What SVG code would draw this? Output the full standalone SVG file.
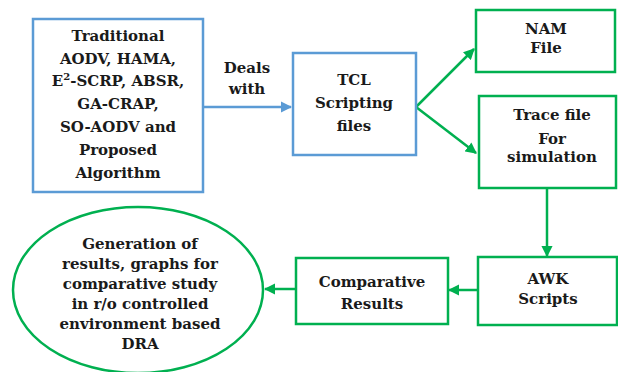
<svg xmlns="http://www.w3.org/2000/svg" width="618" height="372" viewBox="0 0 618 372">
<defs>
<style>
.b{fill:#fff;stroke:#5b9bd5;stroke-width:2.5}
.g{fill:#fff;stroke:#00b050;stroke-width:2.5}
.t{font-family:"DejaVu Serif","Liberation Serif",serif;font-weight:bold;font-size:15px;fill:#1a1a1a;text-anchor:middle}
.cb{stroke:#5b9bd5;stroke-width:2.5;fill:none}
.cg{stroke:#00b050;stroke-width:2.5;fill:none}
</style>
<marker id="ab" viewBox="0 0 10 10" refX="9" refY="5" markerWidth="4.5" markerHeight="4.5" orient="auto" markerUnits="strokeWidth"><path d="M0,0 L10,5 L0,10 z" fill="#5b9bd5"/></marker>
<marker id="ag" viewBox="0 0 10 10" refX="9" refY="5" markerWidth="4.5" markerHeight="4.5" orient="auto" markerUnits="strokeWidth"><path d="M0,0 L10,5 L0,10 z" fill="#00b050"/></marker>
</defs>
<rect width="618" height="372" fill="#fff"/>
<g id="connectors">
<line class="cb" x1="204" y1="107" x2="291" y2="107" marker-end="url(#ab)"/>
<line class="cg" x1="416" y1="107" x2="474" y2="49" marker-end="url(#ag)"/>
<line class="cg" x1="416" y1="107" x2="476" y2="153" marker-end="url(#ag)"/>
<line class="cg" x1="547" y1="188" x2="547" y2="256" marker-end="url(#ag)"/>
<line class="cg" x1="478" y1="290" x2="449" y2="290" marker-end="url(#ag)"/>
<line class="cg" x1="296" y1="289" x2="265" y2="289" marker-end="url(#ag)"/>
</g>
<g id="algorithms">
<rect class="b" x="33" y="19" width="170" height="173"/>
<text class="t" x="118" y="41">Traditional</text>
<text class="t" x="118" y="64">AODV, HAMA,</text>
<text class="t" x="118" y="86">E<tspan font-size="10" dy="-6">2</tspan><tspan dy="6">-SCRP, ABSR,</tspan></text>
<text class="t" x="118" y="109">GA-CRAP,</text>
<text class="t" x="118" y="132">SO-AODV and</text>
<text class="t" x="118" y="155">Proposed</text>
<text class="t" x="118" y="178">Algorithm</text>
</g>
<g id="deals-label">
<text class="t" x="247" y="73">Deals</text>
<text class="t" x="247" y="94">with</text>
</g>
<g id="tcl">
<rect class="b" x="293" y="53" width="123" height="102"/>
<text class="t" x="354" y="85">TCL</text>
<text class="t" x="354" y="108">Scripting</text>
<text class="t" x="354" y="131">files</text>
</g>
<g id="nam">
<rect class="g" x="476" y="10" width="139" height="62"/>
<text class="t" x="546" y="34">NAM</text>
<text class="t" x="546" y="53">File</text>
</g>
<g id="trace">
<rect class="g" x="479" y="96" width="137" height="92"/>
<text class="t" x="552" y="120">Trace file</text>
<text class="t" x="552" y="144">For</text>
<text class="t" x="552" y="162">simulation</text>
</g>
<g id="awk">
<rect class="g" x="478" y="257" width="139" height="68"/>
<text class="t" x="548" y="284">AWK</text>
<text class="t" x="548" y="304">Scripts</text>
</g>
<g id="comparative">
<rect class="g" x="296" y="258" width="152" height="66"/>
<text class="t" x="372" y="287">Comparative</text>
<text class="t" x="372" y="309">Results</text>
</g>
<g id="generation">
<ellipse class="g" cx="138" cy="290" rx="125" ry="83"/>
<text class="t" x="140" y="249">Generation of</text>
<text class="t" x="140" y="269">results, graphs for</text>
<text class="t" x="140" y="289">comparative study</text>
<text class="t" x="140" y="309">in r/o controlled</text>
<text class="t" x="140" y="329">environment based</text>
<text class="t" x="140" y="349">DRA</text>
</g>
</svg>
